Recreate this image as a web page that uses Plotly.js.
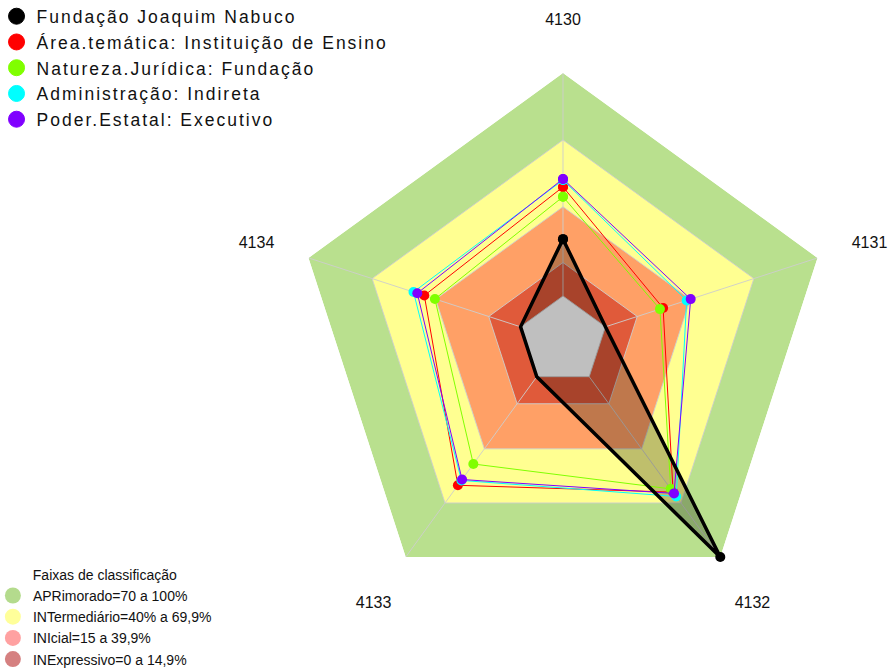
<!DOCTYPE html>
<html><head><meta charset="utf-8">
<script src="https://cdn.plot.ly/plotly-3.0.1.min.js"></script>
<style>
html,body{margin:0;padding:0;background:#fff}
#chart{width:889px;height:668px}
.scrollbox{clip-path:none !important}
.infolayer text.legendtext{letter-spacing:1.4px}
.infolayer g.legend text.legendtext{letter-spacing:2px}
.infolayer text.legendtitletext{letter-spacing:1.2px}
</style>
</head><body><div id="chart"></div>
<script>
// ---- data ----
const categories = ['4130', '4131', '4132', '4133', '4134'];

const seriesNames = [
  'Fundação Joaquim Nabuco',
  'Área.temática: Instituição de Ensino',
  'Natureza.Jurídica: Fundação',
  'Administração: Indireta',
  'Poder.Estatal: Executivo'
];
const fundacaoJoaquimNabuco = [25.5, 0, 100, 0, 0];
const areaTematica          = [48.9, 27.2, 64.0, 60.2, 45.4];
const naturezaJuridica      = [44.5, 25.7, 62.2, 48.4, 40.4];
const administracao         = [52.0, 38.3, 66.4, 57.5, 50.5];
const poderEstatal          = [52.5, 40.2, 64.7, 57.0, 48.7];
const seriesColors = ['#000000', '#FF0000', '#80FF00', '#00FFFF', '#8000FF'];

const bandNames = [
  'APRimorado=70 a 100%',
  'INTermediário=40% a 69,9%',
  'INIcial=15 a 39,9%',
  'INExpressivo=0 a 14,9%'
];
const bandUpper = [100, 70, 40, 15];
const bandFill = ['#B9E08E', '#FFFF91', '#FFA066', '#E05A3A'];
const bandLegendColor = ['rgba(140,200,80,0.65)', 'rgba(255,255,100,0.65)', 'rgba(255,110,110,0.65)', 'rgba(190,60,60,0.65)'];
const ringValues = [0, 15, 40, 70];
const radialRange = [-20, 100];
const labelRange = [-20, 125];
const labelRadius = 124.5;
const legendTitle = 'Faixas de classificação';

// ---- helpers ----
const closeR = arr => arr.concat([arr[0]]);
const closedTheta = categories.concat([categories[0]]);
const FONT = 'Liberation Sans, Arial, sans-serif';

const traces = [];

// bands (outer to inner), plus white core at 0
bandUpper.forEach((v, i) => {
  traces.push({
    type: 'scatterpolar', r: closedTheta.map(() => v), theta: closedTheta,
    mode: 'lines', fill: 'toself', fillcolor: bandFill[i],
    line: {width: 0, color: 'rgba(0,0,0,0)'}, showlegend: false, hoverinfo: 'skip'
  });
});
traces.push({
  type: 'scatterpolar', r: closedTheta.map(() => 0), theta: closedTheta,
  mode: 'lines', fill: 'toself', fillcolor: '#FFFFFF',
  line: {width: 0, color: 'rgba(0,0,0,0)'}, showlegend: false, hoverinfo: 'skip'
});

// grid rings
ringValues.forEach(v => {
  traces.push({
    type: 'scatterpolar', r: closedTheta.map(() => v), theta: closedTheta,
    mode: 'lines', line: {width: 1, color: 'rgba(205,205,205,0.9)'},
    showlegend: false, hoverinfo: 'skip'
  });
});
// spokes
const spokeR = [], spokeT = [];
categories.forEach(c => { spokeR.push(0, 100, null); spokeT.push(c, c, null); });
traces.push({
  type: 'scatterpolar', r: spokeR, theta: spokeT, mode: 'lines', connectgaps: false,
  line: {width: 1, color: 'rgba(205,205,205,0.9)'}, showlegend: false, hoverinfo: 'skip'
});

// black series fill (under others)
traces.push({
  type: 'scatterpolar', r: closeR(fundacaoJoaquimNabuco), theta: closedTheta,
  mode: 'lines', fill: 'toself', fillcolor: 'rgba(0,0,0,0.25)',
  line: {width: 0, color: 'rgba(0,0,0,0)'}, showlegend: false, hoverinfo: 'skip'
});

// colored series
const others = [areaTematica, naturezaJuridica, administracao, poderEstatal];
others.forEach((arr, k) => {
  const i = k + 1;
  traces.push({
    type: 'scatterpolar', r: closeR(arr), theta: closedTheta, name: seriesNames[i],
    mode: 'lines+markers', line: {width: 1, color: seriesColors[i]},
    marker: {size: 10, color: seriesColors[i]}, showlegend: false
  });
});

// black line on top
traces.push({
  type: 'scatterpolar', r: closeR(fundacaoJoaquimNabuco), theta: closedTheta, name: seriesNames[0],
  mode: 'lines+markers', line: {width: 3.5, color: '#000000'},
  marker: {size: 10, color: '#000000'}, showlegend: false
});

// axis labels (category names) on a concentric overlay polar with the same scale
traces.push({
  type: 'scatterpolar', subplot: 'polar2', r: categories.map(() => labelRadius), theta: categories,
  mode: 'text', text: categories, textposition: 'middle center', cliponaxis: false,
  textfont: {size: 16, family: FONT, color: '#111'}, showlegend: false, hoverinfo: 'skip'
});

// legend entries for series
seriesNames.forEach((n, i) => {
  traces.push({
    type: 'scatterpolar', r: [null], theta: [null], name: n, mode: 'markers',
    marker: {size: 16, color: seriesColors[i], line: {width: 1, color: seriesColors[i]}},
    legend: 'legend', showlegend: true, hoverinfo: 'skip'
  });
});
// legend entries for bands
bandNames.forEach((n, i) => {
  traces.push({
    type: 'scatterpolar', r: [null], theta: [null], name: n, mode: 'markers',
    marker: {size: 16, color: bandLegendColor[i]},
    legend: 'legend2', showlegend: true, hoverinfo: 'skip'
  });
});

const hiddenAngular = {
  type: 'category', categoryarray: categories, direction: 'clockwise', rotation: 90,
  showline: false, showgrid: false, ticks: '', showticklabels: false
};

const layout = {
  width: 889, height: 668,
  margin: {l: 0, r: 0, t: 0, b: 0, autoexpand: false},
  paper_bgcolor: '#FFFFFF',
  font: {family: FONT, color: '#111'},
  polar: {
    domain: {x: [0.33228, 0.93431], y: [0.08952, 0.89072]},
    gridshape: 'linear',
    bgcolor: 'rgba(0,0,0,0)',
    angularaxis: hiddenAngular,
    radialaxis: {range: radialRange, showgrid: false, showline: false, showticklabels: false, ticks: ''}
  },
  polar2: {
    domain: {x: [0.26952, 0.99708], y: [0.0015, 0.96976]},
    gridshape: 'linear',
    bgcolor: 'rgba(0,0,0,0)',
    angularaxis: hiddenAngular,
    radialaxis: {range: labelRange, showgrid: false, showline: false, showticklabels: false, ticks: ''}
  },
  legend: {
    x: -0.0039, y: 1.0025, xanchor: 'left', yanchor: 'top',
    bgcolor: 'rgba(0,0,0,0)', font: {size: 17.5, family: FONT, color: '#111'},
    tracegroupgap: 0
  },
  legend2: {
    x: -0.008, y: -0.01, xanchor: 'left', yanchor: 'bottom',
    bgcolor: 'rgba(0,0,0,0)', font: {size: 14, family: FONT, color: '#111'},
    title: {text: legendTitle, side: 'top center', font: {size: 14, family: FONT, color: '#111'}}
  },
  showlegend: true
};

Plotly.newPlot('chart', traces, layout, {displayModeBar: false, staticPlot: true});
</script></body></html>
